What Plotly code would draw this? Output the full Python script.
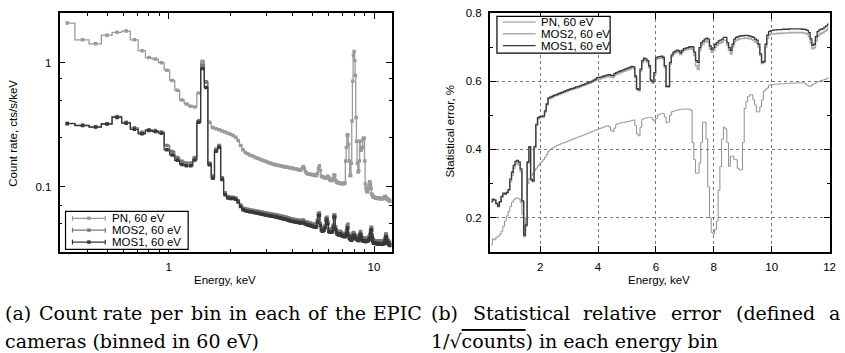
import numpy as np
import plotly.graph_objects as go

# ---------------- data (60 eV bins from 0.29 keV) ----------------
E_LO = 0.29
BIN_W = 0.06
N_BINS = 195
energy = np.round(E_LO + BIN_W * (np.arange(N_BINS) + 0.5), 3)

# count rate, cts/s/keV
pn_rate = [
    2.09, 1.53, 1.42, 1.67, 1.76, 1.80, 1.53, 1.25, 1.10, 1.07,
    1.00, 0.87, 0.72, 0.60, 0.50, 0.465, 0.445, 0.44, 0.57, 1.03,
    0.70, 0.33, 0.300, 0.293, 0.287, 0.281, 0.276, 0.270, 0.264, 0.258,
    0.250, 0.236, 0.215, 0.198, 0.188, 0.184, 0.180, 0.177, 0.174, 0.171,
    0.169, 0.166, 0.164, 0.162, 0.160, 0.158, 0.156, 0.154, 0.152, 0.151,
    0.150, 0.149, 0.148, 0.147, 0.146, 0.145, 0.144, 0.144, 0.143, 0.142,
    0.141, 0.141, 0.140, 0.139, 0.139, 0.138, 0.137, 0.137, 0.136, 0.140,
    0.145, 0.140, 0.132, 0.128, 0.127, 0.126, 0.126, 0.125, 0.125, 0.124,
    0.124, 0.123, 0.123, 0.128, 0.140, 0.147, 0.135, 0.122, 0.120, 0.119,
    0.118, 0.118, 0.117, 0.119, 0.121, 0.118, 0.114, 0.113, 0.112, 0.112,
    0.116, 0.124, 0.123, 0.113, 0.109, 0.108, 0.108, 0.107, 0.107, 0.106,
    0.106, 0.106, 0.106, 0.106, 0.106, 0.107, 0.161, 0.207, 0.261, 0.261,
    0.219, 0.161, 0.123, 0.123, 0.154, 0.338, 0.71, 1.15, 1.23, 1.04,
    0.79, 0.362, 0.232, 0.154, 0.131, 0.134, 0.161, 0.232, 0.197, 0.197,
    0.207, 0.207, 0.239, 0.246, 0.246, 0.161, 0.105, 0.097, 0.092, 0.091,
    0.091, 0.096, 0.101, 0.109, 0.109, 0.103, 0.096, 0.087, 0.086, 0.084,
    0.082, 0.082, 0.082, 0.082, 0.081, 0.081, 0.081, 0.081, 0.081, 0.081,
    0.080, 0.080, 0.080, 0.080, 0.080, 0.080, 0.080, 0.080, 0.080, 0.080,
    0.080, 0.081, 0.082, 0.083, 0.083, 0.082, 0.081, 0.080, 0.079, 0.079,
    0.078, 0.078, 0.078, 0.077, 0.076,
]

mos2_rate = [
    0.324, 0.313, 0.304, 0.322, 0.368, 0.330, 0.298, 0.275, 0.288, 0.283,
    0.276, 0.215, 0.192, 0.172, 0.160, 0.155, 0.155, 0.172, 0.34, 0.96,
    0.70, 0.155, 0.122, 0.200, 0.215, 0.118, 0.089, 0.083, 0.082, 0.082,
    0.081, 0.077, 0.071, 0.067, 0.0661, 0.0656, 0.0649, 0.0645, 0.0640, 0.0635,
    0.0631, 0.0627, 0.0622, 0.0618, 0.0613, 0.0609, 0.0605, 0.0603, 0.0599, 0.0595,
    0.0592, 0.0588, 0.0584, 0.0580, 0.0576, 0.0573, 0.0569, 0.0565, 0.0561, 0.0556,
    0.0550, 0.0546, 0.0545, 0.0543, 0.0539, 0.0537, 0.0534, 0.0532, 0.0531, 0.0534,
    0.0536, 0.0525, 0.0520, 0.0517, 0.0514, 0.0510, 0.0507, 0.0504, 0.0501, 0.0498,
    0.0494, 0.0491, 0.0493, 0.0537, 0.0605, 0.0611, 0.0504, 0.0466, 0.0456, 0.0459,
    0.0466, 0.0488, 0.0556, 0.0565, 0.0520, 0.0454, 0.0451, 0.0450, 0.0448, 0.0452,
    0.0488, 0.0590, 0.0590, 0.0473, 0.0443, 0.0433, 0.0429, 0.0425, 0.0427, 0.0435,
    0.0426, 0.0420, 0.0418, 0.0416, 0.0414, 0.0413, 0.0418, 0.0439, 0.0481, 0.0496,
    0.0420, 0.0402, 0.0397, 0.0391, 0.0388, 0.0391, 0.0414, 0.0426, 0.0420, 0.0408,
    0.0402, 0.0397, 0.0395, 0.0391, 0.0386, 0.0386, 0.0402, 0.0420, 0.0433, 0.0408,
    0.0391, 0.0386, 0.0384, 0.0382, 0.0381, 0.0381, 0.0379, 0.0379, 0.0381, 0.0382,
    0.0384, 0.0386, 0.0391, 0.0395, 0.0408, 0.0439, 0.0470, 0.0466, 0.0408, 0.0381,
    0.0370, 0.0367, 0.0367, 0.0366, 0.0366, 0.0365, 0.0365, 0.0365, 0.0364, 0.0364,
    0.0364, 0.0364, 0.0363, 0.0363, 0.0363, 0.0363, 0.0363, 0.0363, 0.0363, 0.0363,
    0.0364, 0.0365, 0.0367, 0.0375, 0.0395, 0.0414, 0.0411, 0.0388, 0.0373, 0.0368,
    0.0365, 0.0363, 0.0359, 0.0356, 0.0351,
]

mos1_rate = [
    0.322, 0.311, 0.302, 0.320, 0.362, 0.325, 0.290, 0.267, 0.283, 0.278,
    0.270, 0.198, 0.180, 0.163, 0.151, 0.147, 0.147, 0.164, 0.33, 0.90,
    0.63, 0.150, 0.117, 0.193, 0.208, 0.114, 0.086, 0.081, 0.080, 0.080,
    0.079, 0.075, 0.069, 0.065, 0.0637, 0.0632, 0.0626, 0.0622, 0.0617, 0.0612,
    0.0608, 0.0604, 0.0599, 0.0595, 0.0590, 0.0586, 0.0582, 0.0580, 0.0576, 0.0572,
    0.0569, 0.0565, 0.0561, 0.0557, 0.0553, 0.0550, 0.0546, 0.0542, 0.0538, 0.0533,
    0.0527, 0.0524, 0.0523, 0.0521, 0.0517, 0.0515, 0.0512, 0.0510, 0.0509, 0.0512,
    0.0514, 0.0503, 0.0498, 0.0495, 0.0492, 0.0488, 0.0485, 0.0482, 0.0479, 0.0476,
    0.0472, 0.0469, 0.0471, 0.0515, 0.0582, 0.0588, 0.0483, 0.0446, 0.0436, 0.0439,
    0.0446, 0.0467, 0.0533, 0.0542, 0.0498, 0.0434, 0.0431, 0.0430, 0.0428, 0.0432,
    0.0467, 0.0566, 0.0566, 0.0452, 0.0423, 0.0414, 0.0410, 0.0406, 0.0408, 0.0416,
    0.0407, 0.0401, 0.0399, 0.0397, 0.0395, 0.0394, 0.0398, 0.0419, 0.0459, 0.0462,
    0.0400, 0.0383, 0.0378, 0.0372, 0.0369, 0.0372, 0.0395, 0.0406, 0.0400, 0.0389,
    0.0383, 0.0378, 0.0376, 0.0372, 0.0367, 0.0367, 0.0383, 0.0400, 0.0412, 0.0389,
    0.0372, 0.0367, 0.0365, 0.0363, 0.0362, 0.0362, 0.0360, 0.0360, 0.0362, 0.0363,
    0.0365, 0.0367, 0.0372, 0.0376, 0.0389, 0.0419, 0.0449, 0.0445, 0.0389, 0.0363,
    0.0352, 0.0349, 0.0349, 0.0348, 0.0348, 0.0347, 0.0347, 0.0347, 0.0346, 0.0346,
    0.0346, 0.0346, 0.0345, 0.0345, 0.0345, 0.0345, 0.0345, 0.0345, 0.0345, 0.0345,
    0.0346, 0.0347, 0.0349, 0.0357, 0.0376, 0.0394, 0.0391, 0.0369, 0.0355, 0.0350,
    0.0347, 0.0345, 0.0341, 0.0338, 0.0334,
]

# statistical error, %
pn_err = [
    0.120, 0.138, 0.135, 0.142, 0.145, 0.150, 0.160, 0.175, 0.190, 0.205,
    0.218, 0.232, 0.245, 0.252, 0.257, 0.258, 0.255, 0.245, 0.210, 0.168,
    0.200, 0.300, 0.315, 0.322, 0.330, 0.338, 0.345, 0.352, 0.358, 0.364,
    0.370, 0.377, 0.385, 0.395, 0.400, 0.403, 0.406, 0.409, 0.412, 0.414,
    0.416, 0.418, 0.420, 0.422, 0.424, 0.426, 0.428, 0.430, 0.432, 0.434,
    0.436, 0.438, 0.440, 0.442, 0.444, 0.446, 0.448, 0.450, 0.452, 0.454,
    0.456, 0.458, 0.460, 0.462, 0.464, 0.466, 0.468, 0.469, 0.466, 0.456,
    0.452, 0.462, 0.472, 0.476, 0.477, 0.478, 0.479, 0.480, 0.481, 0.482,
    0.483, 0.485, 0.486, 0.470, 0.445, 0.440, 0.465, 0.488, 0.490, 0.492,
    0.493, 0.494, 0.494, 0.487, 0.482, 0.490, 0.500, 0.503, 0.505, 0.505,
    0.495, 0.478, 0.480, 0.500, 0.510, 0.512, 0.514, 0.515, 0.516, 0.517,
    0.518, 0.518, 0.518, 0.518, 0.518, 0.515, 0.420, 0.370, 0.330, 0.330,
    0.360, 0.420, 0.480, 0.480, 0.430, 0.290, 0.200, 0.157, 0.152, 0.165,
    0.190, 0.280, 0.350, 0.430, 0.465, 0.460, 0.420, 0.350, 0.380, 0.380,
    0.370, 0.370, 0.345, 0.340, 0.340, 0.420, 0.520, 0.540, 0.555, 0.560,
    0.560, 0.545, 0.530, 0.510, 0.510, 0.525, 0.545, 0.570, 0.575, 0.580,
    0.588, 0.590, 0.590, 0.590, 0.591, 0.591, 0.592, 0.592, 0.592, 0.593,
    0.593, 0.593, 0.594, 0.594, 0.594, 0.595, 0.595, 0.595, 0.595, 0.595,
    0.595, 0.592, 0.588, 0.585, 0.585, 0.590, 0.592, 0.595, 0.598, 0.600,
    0.602, 0.603, 0.605, 0.607, 0.610,
]

mos2_err = [
    0.245, 0.252, 0.250, 0.240, 0.232, 0.245, 0.260, 0.270, 0.268, 0.272,
    0.280, 0.305, 0.325, 0.345, 0.357, 0.360, 0.355, 0.335, 0.245, 0.145,
    0.175, 0.360, 0.405, 0.310, 0.305, 0.405, 0.470, 0.490, 0.493, 0.494,
    0.495, 0.510, 0.530, 0.548, 0.550, 0.552, 0.555, 0.557, 0.559, 0.561,
    0.563, 0.565, 0.567, 0.569, 0.571, 0.573, 0.575, 0.576, 0.578, 0.580,
    0.581, 0.583, 0.585, 0.587, 0.589, 0.591, 0.593, 0.595, 0.597, 0.600,
    0.603, 0.605, 0.606, 0.607, 0.609, 0.610, 0.612, 0.613, 0.614, 0.612,
    0.611, 0.617, 0.620, 0.622, 0.624, 0.626, 0.628, 0.630, 0.632, 0.634,
    0.636, 0.638, 0.637, 0.610, 0.575, 0.572, 0.630, 0.655, 0.662, 0.660,
    0.655, 0.640, 0.600, 0.595, 0.620, 0.664, 0.666, 0.667, 0.668, 0.665,
    0.640, 0.582, 0.582, 0.650, 0.672, 0.680, 0.683, 0.686, 0.684, 0.678,
    0.685, 0.690, 0.692, 0.693, 0.695, 0.696, 0.692, 0.675, 0.645, 0.635,
    0.690, 0.705, 0.710, 0.715, 0.718, 0.715, 0.695, 0.685, 0.690, 0.700,
    0.705, 0.710, 0.712, 0.715, 0.720, 0.720, 0.705, 0.690, 0.680, 0.700,
    0.715, 0.720, 0.722, 0.724, 0.725, 0.725, 0.726, 0.726, 0.725, 0.724,
    0.722, 0.720, 0.715, 0.712, 0.700, 0.675, 0.652, 0.655, 0.700, 0.725,
    0.735, 0.738, 0.738, 0.739, 0.739, 0.740, 0.740, 0.740, 0.741, 0.741,
    0.741, 0.741, 0.742, 0.742, 0.742, 0.742, 0.742, 0.742, 0.742, 0.742,
    0.741, 0.740, 0.738, 0.730, 0.712, 0.695, 0.698, 0.718, 0.732, 0.737,
    0.740, 0.742, 0.746, 0.750, 0.755,
]

mos1_err = [
    0.247, 0.254, 0.252, 0.242, 0.234, 0.247, 0.262, 0.272, 0.270, 0.274,
    0.282, 0.313, 0.333, 0.353, 0.365, 0.368, 0.363, 0.343, 0.249, 0.149,
    0.179, 0.363, 0.408, 0.313, 0.308, 0.408, 0.473, 0.493, 0.496, 0.497,
    0.498, 0.513, 0.533, 0.551, 0.553, 0.555, 0.558, 0.560, 0.562, 0.564,
    0.566, 0.568, 0.570, 0.572, 0.574, 0.576, 0.578, 0.579, 0.581, 0.583,
    0.584, 0.586, 0.588, 0.590, 0.592, 0.594, 0.596, 0.598, 0.600, 0.603,
    0.606, 0.610, 0.611, 0.612, 0.614, 0.615, 0.617, 0.618, 0.619, 0.617,
    0.616, 0.622, 0.625, 0.627, 0.629, 0.631, 0.633, 0.635, 0.637, 0.639,
    0.641, 0.643, 0.642, 0.615, 0.578, 0.575, 0.635, 0.660, 0.667, 0.665,
    0.660, 0.645, 0.603, 0.598, 0.625, 0.669, 0.671, 0.672, 0.673, 0.670,
    0.645, 0.585, 0.585, 0.655, 0.677, 0.685, 0.688, 0.691, 0.689, 0.683,
    0.690, 0.695, 0.697, 0.698, 0.700, 0.701, 0.700, 0.685, 0.660, 0.655,
    0.698, 0.713, 0.718, 0.723, 0.726, 0.723, 0.703, 0.693, 0.698, 0.708,
    0.713, 0.718, 0.720, 0.723, 0.728, 0.728, 0.713, 0.698, 0.690, 0.708,
    0.723, 0.728, 0.730, 0.732, 0.733, 0.733, 0.734, 0.734, 0.733, 0.732,
    0.730, 0.728, 0.723, 0.720, 0.708, 0.680, 0.655, 0.658, 0.708, 0.735,
    0.745, 0.748, 0.749, 0.750, 0.750, 0.751, 0.751, 0.751, 0.752, 0.752,
    0.752, 0.752, 0.753, 0.753, 0.753, 0.753, 0.753, 0.753, 0.753, 0.752,
    0.752, 0.751, 0.749, 0.742, 0.724, 0.705, 0.708, 0.730, 0.745, 0.750,
    0.752, 0.754, 0.758, 0.762, 0.767,
]

series_names = ["PN, 60 eV", "MOS2, 60 eV", "MOS1, 60 eV"]
x_tick_vals_left = [1, 10]
x_minor_left = [0.4, 0.5, 0.6, 0.7, 0.8, 0.9, 2, 3, 4, 5, 6, 7, 8, 9]
y_tick_vals_left = [0.1, 1]
y_minor_left = [0.05, 0.07, 0.25, 0.5, 0.75]
x_tick_vals_right = [2, 4, 6, 8, 10, 12]
y_tick_vals_right = [0.2, 0.4, 0.6, 0.8]
y_minor_right = [0.3, 0.5, 0.7]

# ---------------- styling ----------------
W, H = 845, 353
def px(x):
    return x / W
def py(y):
    return 1 - y / H

SANS = "Liberation Sans, Arial, sans-serif"
SERIF = "DejaVu Serif, serif"
FS = 11.5

left_colors = ["#9a9a9a", "#787878", "#383838"]
right_colors = ["#8e8e8e", "#ababab", "#3a3a3a"]
right_widths = [1.0, 1.6, 1.3]

fig = go.Figure()

for name, vals, col in zip(series_names, [pn_rate, mos2_rate, mos1_rate], left_colors):
    fig.add_trace(go.Scatter(
        x=energy, y=vals, name=name, mode="lines+markers",
        line=dict(shape="hvh", width=1.3, color=col),
        marker=dict(symbol="square", size=3.5, color=col),
        xaxis="x", yaxis="y", showlegend=False,
    ))

for name, vals, col, w in zip(series_names, [pn_err, mos2_err, mos1_err], right_colors, right_widths):
    fig.add_trace(go.Scatter(
        x=energy, y=vals, name=name, mode="lines",
        line=dict(shape="hvh", width=w, color=col),
        xaxis="x2", yaxis="y2", showlegend=False,
    ))

axis_common = dict(
    ticks="inside", ticklen=6, tickwidth=1.2, tickcolor="black",
    showline=True, linewidth=1.6, linecolor="black", mirror="allticks",
    zeroline=False, tickfont=dict(family=SANS, size=FS, color="black"),
    ticklabelstandoff=4,
)

fig.update_layout(
    width=W, height=H,
    margin=dict(l=0, r=0, t=0, b=0),
    paper_bgcolor="white", plot_bgcolor="white",
    showlegend=False,
    xaxis=dict(
        domain=[px(60), px(394.5)], type="log", range=[-0.5322, 1.0862],
        anchor="y", tickvals=x_tick_vals_left, ticktext=[str(v) for v in x_tick_vals_left],
        showgrid=False,
        minor=dict(tickvals=x_minor_left, ticks="inside", ticklen=3, tickcolor="black",
                   tickwidth=1, showgrid=False),
        **axis_common,
    ),
    yaxis=dict(
        domain=[py(250), py(7)], type="log", range=[-1.5262, 0.4024],
        anchor="x", tickvals=y_tick_vals_left, ticktext=["0.1", "1"],
        showgrid=False,
        minor=dict(tickvals=y_minor_left, ticks="inside", ticklen=3, tickcolor="black",
                   tickwidth=1, showgrid=False),
        **axis_common,
    ),
    xaxis2=dict(
        domain=[px(493.3), px(835.5)], range=[0.26, 12], anchor="y2",
        tickvals=x_tick_vals_right, ticktext=[str(v) for v in x_tick_vals_right],
        showgrid=True, gridcolor="#7a7a7a", griddash="dot", gridwidth=1,
        **axis_common,
    ),
    yaxis2=dict(
        domain=[py(250), py(7)], range=[0.1, 0.8], anchor="x2",
        tickvals=y_tick_vals_right, ticktext=["0.2", "0.4", "0.6", "0.8"],
        showgrid=True, gridcolor="#7a7a7a", griddash="dot", gridwidth=1,
        minor=dict(tickvals=y_minor_right, ticks="inside", ticklen=3, tickcolor="black",
                   tickwidth=1, showgrid=False),
        **axis_common,
    ),
)

annotations = []
shapes = []

def add_text(x, y, text, size=FS, family=SANS, xanchor="center", yanchor="middle", angle=0):
    annotations.append(dict(
        x=px(x), y=py(y), xref="paper", yref="paper", text=text, showarrow=False,
        xanchor=xanchor, yanchor=yanchor, textangle=angle,
        font=dict(family=family, size=size, color="black"),
    ))

# axis titles
add_text(227, 279, "Energy, keV")
add_text(664, 279, "Energy, keV")
add_text(13, 129, "Count rate, cts/s/keV", angle=-90)
add_text(453, 127, "Statistical error, %", angle=-90)

# left legend (gnuplot style: x-errorbar samples)
shapes.append(dict(type="rect", xref="paper", yref="paper",
                   x0=px(66), x1=px(189.5), y0=py(247.5), y1=py(209),
                   line=dict(color="black", width=1.2), fillcolor="white"))
for i, (name, col) in enumerate(zip(series_names, left_colors)):
    yy = 216 + 12.1 * i
    shapes.append(dict(type="line", xref="paper", yref="paper",
                       x0=px(73), x1=px(106), y0=py(yy), y1=py(yy),
                       line=dict(color=col, width=1.3)))
    for xe in (73, 106):
        shapes.append(dict(type="line", xref="paper", yref="paper",
                           x0=px(xe), x1=px(xe), y0=py(yy - 2.5), y1=py(yy + 2.5),
                           line=dict(color=col, width=1.2)))
    shapes.append(dict(type="rect", xref="paper", yref="paper",
                       x0=px(88), x1=px(91), y0=py(yy + 1.5), y1=py(yy - 1.5),
                       line=dict(color=col, width=0.5), fillcolor=col))
    add_text(110.5, yy, name, xanchor="left")

# right legend
shapes.append(dict(type="rect", xref="paper", yref="paper",
                   x0=px(500.5), x1=px(614.5), y0=py(48), y1=py(10.5),
                   line=dict(color="black", width=1.2), fillcolor="white"))
for i, (name, col, w) in enumerate(zip(series_names, right_colors, right_widths)):
    yy = 16.3 + 12.0 * i
    shapes.append(dict(type="line", xref="paper", yref="paper",
                       x0=px(506.5), x1=px(539.5), y0=py(yy), y1=py(yy),
                       line=dict(color=col, width=w)))
    add_text(542.5, yy, name, xanchor="left")

# captions (justified first lines)
cap_a = [("(a)", 3), ("Count", 37), ("rate", 102), ("per", 149.5), ("bin", 190),
         ("in", 228.5), ("each", 255), ("of", 308.5), ("the", 335), ("EPIC", 374)]
for word, xw in cap_a:
    add_text(xw, 312.5, word, size=19, family=SERIF, xanchor="left")
add_text(3, 340.5, "cameras (binned in 60 eV)", size=19, family=SERIF, xanchor="left")

cap_b = [("(b)", 432), ("Statistical", 474), ("relative", 585.5), ("error", 674),
         ("(defined", 739), ("a", 832.5)]
for word, xw in cap_b:
    add_text(xw, 312.5, word, size=19, family=SERIF, xanchor="left")
add_text(432, 340.5,
         "1/\u221a<span style='text-decoration:overline'>counts</span>) in each energy bin",
         size=19, family=SERIF, xanchor="left")

fig.update_layout(annotations=annotations, shapes=shapes)

fig.write_html(
    "out.html",
    config={"displayModeBar": False},
    post_script="document.body.style.margin='0px';document.body.style.overflow='hidden';",
)
